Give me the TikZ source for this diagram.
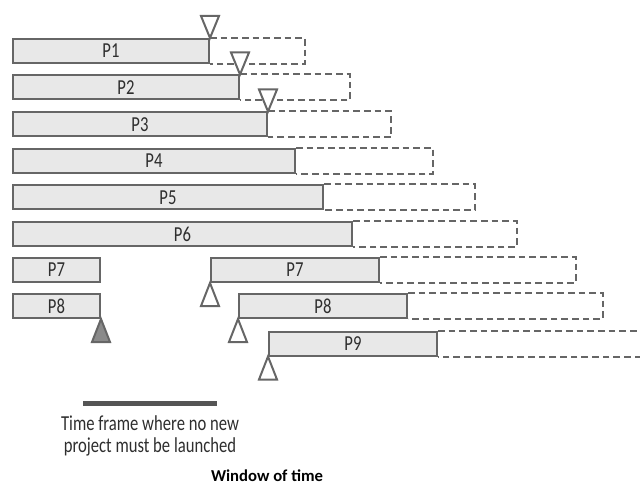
\documentclass[tikz,border=0pt]{standalone}
\usepackage{fontspec}
\setmainfont{Carlito}
\newfontfamily\narrowfont[FakeStretch=0.78]{Carlito}
\usepackage{xcolor}
\usepackage{tikz}
\usetikzlibrary{positioning}
\definecolor{barline}{HTML}{666666}
\definecolor{barfill}{HTML}{E8E8E8}
\definecolor{markfill}{HTML}{8A8A8A}
\definecolor{labeltext}{HTML}{2E2E2E}
\definecolor{freezebar}{HTML}{555555}
\tikzset{
  bar/.style={draw=barline,fill=barfill,line width=1.5pt,anchor=west,minimum height=18pt,inner sep=0pt,text=labeltext,font=\narrowfont\fontsize{16}{18}\selectfont},
  slack/.style={draw=barline,line width=1.5pt,dash pattern=on 5pt off 3pt},
  launch/.style={draw=barline,fill=white,line width=1.5pt,line join=miter},
  freeze/.style={fill=freezebar,inner sep=0pt,minimum height=3.75pt},
  caption/.style={align=center,inner sep=0pt,text=labeltext,font=\narrowfont\fontsize{16}{16.5}\selectfont}
}
\begin{document}
\begin{tikzpicture}[x=0.75pt,y=-0.75pt]
    \useasboundingbox (0,0) rectangle (640,485);
    \foreach \nm/\lbl/\xa/\xb/\y/\xc in {p1/P1/12/208/51/305,p2/P2/12/238/87.5/350,p3/P3/12/266/124.5/391,p4/P4/12/294/161/433,p5/P5/12/322/197.5/475,p6/P6/12/351/234/517,p7/P7/210/378/270/576,p8/P8/238/406/306/603,p9/P9/268/436/343.5/660}{
      \node[bar,minimum width={(\xb-\xa)*0.75pt}] (\nm) at (\xa,\y) {\lbl};
      \coordinate (\nm end) at (\xc,\y);
      \draw[slack] (\nm.north east) -- (\nm.north east -| \nm end) -- (\nm.south east -| \nm end) -- (\nm.south east);
    }
    \node[bar,minimum width={87*0.75pt}] (p7a) at (12,270) {P7};
    \node[bar,minimum width={87*0.75pt}] (p8a) at (12,306) {P8};
    \foreach \nm in {p1,p2,p3}
      \draw[launch] (\nm.north east) -- ++(-9,-22) -- ++(18,0) -- cycle;
    \foreach \nm in {p7,p8,p9}
      \draw[launch] (\nm.south west) -- ++(-9,23) -- ++(18,0) -- cycle;
    \draw[launch,fill=markfill] (p8a.south east) -- ++(-9,23) -- ++(18,0) -- cycle;
    \node[freeze,minimum width={134*0.75pt}] (frozen) at (150,403) {};
    \node[caption,below=7pt of frozen] (note) {Time frame where no new\\project must be launched};
    \node[anchor=base,inner sep=0pt,font=\bfseries\fontsize{12.5}{14}\selectfont] (window) at (267,481) {Window of time};
  \end{tikzpicture}
\end{document}
